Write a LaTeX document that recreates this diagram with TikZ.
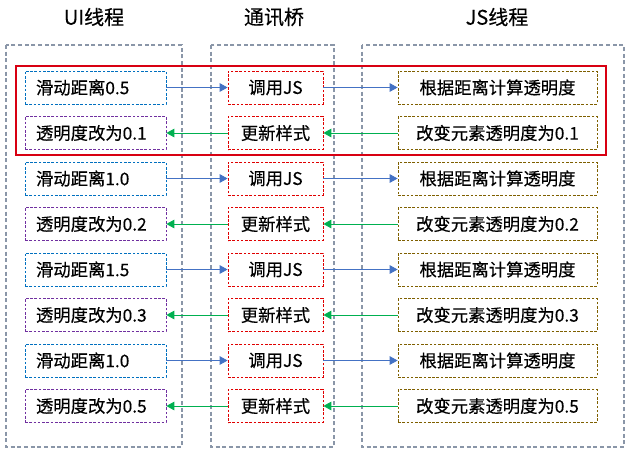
\documentclass[tikz,border=0pt]{standalone}
\usepackage{fontspec}
\setmainfont{Noto Sans CJK SC}[FakeBold=0.35]
\usetikzlibrary{arrows.meta}
\definecolor{cgray}{HTML}{8A96A8}
\definecolor{cblue}{HTML}{0070C0}
\definecolor{cpurple}{HTML}{7030A0}
\definecolor{cred}{HTML}{E00000}
\definecolor{cbrown}{HTML}{7F6000}
\definecolor{ablue}{HTML}{4472C4}
\definecolor{agreen}{HTML}{00B050}
\definecolor{hred}{HTML}{D80012}
\tikzset{
  lane/.style={draw=cgray, line width=1.2pt, dash pattern=on 3pt off 2pt},
  boxbase/.style={minimum height=24.75pt, inner sep=0pt, line width=0.6pt, dash pattern=on 2pt off 1.2pt, font=\fontsize{13pt}{15pt}\selectfont},
  uibase/.style={boxbase, minimum width=105.75pt, text width=89.25pt, align=left, inner xsep=8.25pt},
  uiA/.style={uibase, draw=cblue},
  uiB/.style={uibase, draw=cpurple},
  br/.style={boxbase, draw=cred, minimum width=71.25pt},
  js/.style={boxbase, draw=cbrown, minimum width=149.25pt},
  ttl/.style={font=\fontsize{15pt}{17pt}\selectfont},
  fwd/.style={draw=ablue, line width=0.7pt, -{Triangle[length=6pt,width=6.5pt]}},
  bwd/.style={draw=agreen, line width=0.7pt, -{Triangle[length=6pt,width=6.5pt]}},
}
\begin{document}
\begin{tikzpicture}[x=0.75pt,y=-0.75pt]
\useasboundingbox (0,0) rectangle (633,458);
% titles
\node[ttl] (t1) at (94,17) {UI线程};
\node[ttl] (t2) at (274,17) {通讯桥};
\node[ttl] (t3) at (497,17) {JS线程};
% lanes
\draw[lane] (6,45) rectangle (182,447);
\draw[lane] (211,45) rectangle (334,447);
\draw[lane] (362,45) rectangle (624,447);
% highlight
\draw[draw=hred, line width=0.9pt] (16,66) rectangle (606,155);
% rows
\foreach \i/\u/\v/\j in {0/滑动距离0.5/透明度改为0.1/改变元素透明度为0.1, 1/滑动距离1.0/透明度改为0.2/改变元素透明度为0.2, 2/滑动距离1.5/透明度改为0.3/改变元素透明度为0.3, 3/滑动距离1.0/透明度改为0.5/改变元素透明度为0.5}{
  \pgfmathsetmacro{\ya}{87.5+91*\i}
  \pgfmathsetmacro{\yb}{133+91*\i}
  \node[uiA] (u\i a) at (95.5,\ya) {\u};
  \node[br] (b\i a) at (275.5,\ya) {调用JS};
  \node[js] (j\i a) at (497.5,\ya) {根据距离计算透明度};
  \node[uiB] (u\i b) at (95.5,\yb) {\v};
  \node[br] (b\i b) at (275.5,\yb) {更新样式};
  \node[js] (j\i b) at (497.5,\yb) {\j};
  \draw[fwd] (u\i a) -- (b\i a);
  \draw[fwd] (b\i a) -- (j\i a);
  \draw[bwd] (j\i b) -- (b\i b);
  \draw[bwd] (b\i b) -- (u\i b);
}
\end{tikzpicture}
\end{document}
